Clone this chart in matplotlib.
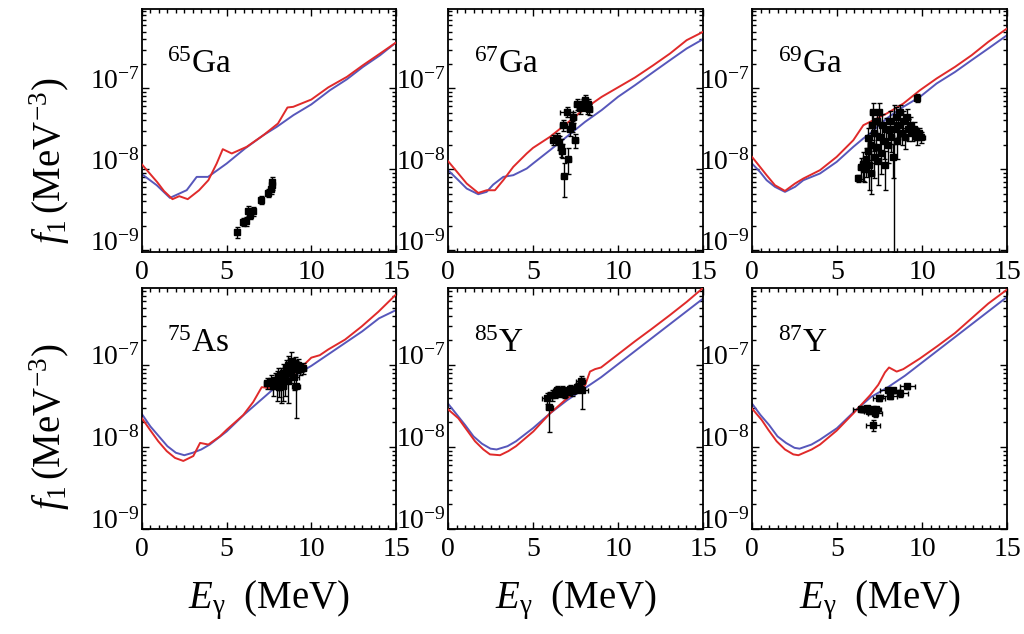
import numpy as np
import matplotlib
matplotlib.use("Agg")
import matplotlib.pyplot as plt
from matplotlib.ticker import LogLocator, MultipleLocator, NullFormatter

plt.rcParams['font.family'] = ['Liberation Serif', 'DejaVu Serif']
plt.rcParams['mathtext.fontset'] = 'custom'
plt.rcParams['mathtext.rm'] = 'Liberation Serif'
plt.rcParams['mathtext.it'] = 'Liberation Serif:italic'
plt.rcParams['mathtext.bf'] = 'Liberation Serif:bold'

RED = '#e02a2a'
BLUE = '#5757bb'

# ---------------- data (log10 of f1 in MeV^-3) ----------------
nuclides = ['65', '67', '69', '75', '85', '87']
elements = ['Ga', 'Ga', 'Ga', 'As', 'Y', 'Y']

# 65Ga
ga65_red_E = [0, 0.9, 1.3, 1.8, 2.2, 2.7, 3.37, 3.92, 4.41, 4.77, 5.3, 6.18, 7.17, 8.03, 8.59, 8.93, 10.0, 11.0, 12.1, 13.05, 14.06, 15]
ga65_red_log = [-7.942, -8.16, -8.27, -8.37, -8.333, -8.37, -8.26, -8.136, -7.93, -7.753, -7.806, -7.724, -7.58, -7.436, -7.238, -7.23, -7.14, -6.99, -6.86, -6.716, -6.572, -6.436]
ga65_blue_E = [0, 0.87, 1.65, 2.64, 3.23, 3.9, 5.0, 6.08, 7.17, 7.96, 8.94, 10.0, 11.1, 12.1, 13.05, 14.06, 15]
ga65_blue_log = [-8.062, -8.198, -8.354, -8.259, -8.095, -8.095, -7.93, -7.745, -7.58, -7.477, -7.333, -7.2, -7.025, -6.89, -6.737, -6.593, -6.436]
ga65_exp_E = [5.59, 5.95, 6.15, 6.28, 6.4, 6.58, 7.0, 7.46, 7.6, 7.66, 7.7]
ga65_exp_log = [-8.78, -8.65, -8.64, -8.51, -8.56, -8.52, -8.38, -8.29, -8.25, -8.157, -8.2]
ga65_exp_rel = [0.15, 0.12, 0.12, 0.15, 0.12, 0.12, 0.12, 0.12, 0.12, 0.15, 0.12]
ga65_exp_dE = [0.12, 0.12, 0.12, 0.12, 0.12, 0.12, 0.12, 0.12, 0.12, 0.12, 0.12]

# 67Ga
ga67_red_E = [0, 0.61, 1.1, 1.78, 2.27, 2.76, 3.25, 3.84, 4.63, 5.0, 6.0, 6.98, 8.06, 9.04, 10.0, 11.0, 12.08, 13.06, 14.04, 15]
ga67_red_log = [-7.90, -8.053, -8.177, -8.293, -8.26, -8.26, -8.136, -7.971, -7.806, -7.737, -7.6, -7.436, -7.25, -7.107, -6.99, -6.868, -6.716, -6.572, -6.407, -6.305]
ga67_blue_E = [0, 0.61, 1.1, 1.78, 2.27, 2.66, 3.25, 3.84, 4.63, 5.0, 6.0, 6.98, 8.06, 9.04, 10.0, 11.0, 12.08, 13.06, 14.04, 15]
ga67_blue_log = [-8.012, -8.136, -8.239, -8.309, -8.28, -8.19, -8.095, -8.074, -7.992, -7.93, -7.765, -7.6, -7.416, -7.27, -7.107, -6.963, -6.8, -6.654, -6.51, -6.395]
ga67_exp_E = [6.2, 6.4, 6.5, 6.63, 6.69, 6.82, 7.08, 6.78, 6.98, 7.18, 7.27, 7.37, 7.47, 7.57, 7.76, 7.92, 8.06, 8.16, 8.31, 8.25]
ga67_exp_log = [-7.634, -7.614, -7.666, -7.724, -7.77, -8.086, -7.868, -7.457, -7.29, -7.498, -7.47, -7.36, -7.64, -7.2, -7.25, -7.2, -7.148, -7.25, -7.26, -7.2]
ga67_exp_rel = [0.15, 0.15, 0.2, 0.25, 0.2, 0.45, 0.35, 0.15, 0.15, 0.2, 0.15, 0.15, 0.2, 0.15, 0.15, 0.15, 0.15, 0.15, 0.15, 0.15]
ga67_exp_dE = [0.15, 0.15, 0.15, 0.15, 0.15, 0.15, 0.15, 0.2, 0.4, 0.2, 0.15, 0.15, 0.15, 0.15, 0.15, 0.15, 0.15, 0.15, 0.15, 0.15]

# 69Ga
ga69_red_E = [0, 0.47, 0.86, 1.35, 1.94, 2.53, 3.02, 4.0, 4.98, 5.96, 6.55, 6.94, 7.92, 8.9, 9.88, 10.86, 11.94, 12.92, 13.9, 15]
ga69_red_log = [-7.848, -7.971, -8.074, -8.198, -8.268, -8.177, -8.115, -8.012, -7.848, -7.642, -7.457, -7.416, -7.313, -7.19, -7.025, -6.88, -6.737, -6.593, -6.428, -6.263]
ga69_blue_E = [0, 0.47, 0.86, 1.35, 1.94, 2.53, 3.02, 4.0, 4.98, 5.96, 6.55, 6.94, 7.92, 8.9, 9.88, 10.86, 11.94, 12.92, 13.9, 15]
ga69_blue_log = [-7.93, -8.033, -8.136, -8.218, -8.28, -8.218, -8.136, -8.053, -7.91, -7.724, -7.62, -7.56, -7.374, -7.23, -7.107, -6.942, -6.8, -6.654, -6.51, -6.346]
ga69_exp_E = [6.24, 6.4, 6.5, 6.6, 6.7, 6.8, 6.85, 6.9, 7.0, 7.0, 7.05, 7.1, 7.15, 7.2, 7.3, 7.35, 7.4, 7.45, 7.5, 7.6,
              7.65, 7.75, 7.8, 7.9, 8.0, 8.1, 8.2, 8.3, 8.37, 8.45, 8.5, 8.6, 8.7, 8.8, 8.9, 9.0, 9.1, 9.2, 9.3, 9.4,
              9.55, 9.7, 9.8, 9.95, 9.73]
ga69_exp_log = [-8.11, -7.97, -7.93, -8.0, -7.88, -7.78, -7.62, -7.95, -7.7, -8.05, -7.45, -7.3, -7.85, -7.55, -7.72, -7.4, -7.9, -7.3, -7.6, -7.8,
                -7.45, -7.65, -7.95, -7.5, -7.7, -7.4, -7.6, -7.85, -7.5, -7.35, -7.65, -7.45, -7.3, -7.55, -7.4, -7.6, -7.35, -7.5, -7.45, -7.55,
                -7.5, -7.6, -7.55, -7.6, -7.12]
ga69_exp_rel = [0.1, 0.3, 0.4, 0.3, 0.4, 0.45, 0.35, 0.5, 0.4, 0.45, 0.35, 0.3, 0.45, 0.4, 0.35, 0.3, 0.5, 0.3, 0.4, 0.45,
                0.35, 0.4, 0.5, 0.35, 0.4, 0.3, 0.35, 0.45, 0.97, 0.3, 0.4, 0.3, 0.25, 0.3, 0.3, 0.3, 0.25, 0.3, 0.25, 0.2,
                0.2, 0.2, 0.15, 0.15, 0.12]
ga69_exp_dE = [0.15] * 40 + [0.2, 0.25, 0.2, 0.25, 0.1]

# 75As
as75_red_E = [0, 0.47, 0.96, 1.46, 1.95, 2.44, 3.03, 3.43, 3.92, 4.6, 5.0, 5.98, 6.57, 7.07, 7.5, 8.05, 9.04, 9.5, 10.0, 10.5, 11.0, 11.99, 12.97, 13.96, 15]
as75_red_log = [-7.65, -7.79, -7.93, -8.05, -8.133, -8.17, -8.11, -7.95, -7.97, -7.87, -7.79, -7.61, -7.45, -7.27, -7.28, -7.25, -7.13, -7.01, -6.91, -6.88, -6.81, -6.69, -6.53, -6.35, -6.14]
as75_blue_E = [0, 0.5, 1, 1.5, 2, 2.5, 3, 3.5, 4, 5, 6, 7, 8, 9, 10, 11, 12, 13, 14, 15]
as75_blue_log = [-7.60, -7.75, -7.87, -7.99, -8.07, -8.10, -8.07, -8.03, -7.97, -7.81, -7.61, -7.43, -7.25, -7.13, -7.01, -6.87, -6.73, -6.59, -6.43, -6.33]
as75_exp_E = [7.4, 7.6, 7.75, 7.85, 7.95, 8.05, 8.1, 8.2, 8.3, 8.35, 8.45, 8.5, 8.6, 8.65, 8.75, 8.8, 8.9, 9.0, 9.05, 9.1, 9.2, 9.35, 9.5]
as75_exp_log = [-7.22, -7.2, -7.25, -7.18, -7.22, -7.15, -7.27, -7.2, -7.1, -7.25, -7.15, -7.05, -7.2, -7.0, -7.1, -6.95, -7.05, -7.15, -6.98, -7.25, -7.0, -7.05, -7.04]
as75_exp_rel = [0.15, 0.2, 0.25, 0.2, 0.4, 0.3, 0.25, 0.45, 0.3, 0.35, 0.4, 0.3, 0.45, 0.3, 0.25, 0.3, 0.25, 0.3, 0.2, 0.6, 0.2, 0.15, 0.15]
as75_exp_dE = [0.2, 0.2, 0.15, 0.2, 0.2, 0.15, 0.2, 0.2, 0.2, 0.15, 0.2, 0.2, 0.2, 0.15, 0.2, 0.2, 0.2, 0.25, 0.2, 0.25, 0.2, 0.2, 0.2]

# 85Y
y85_red_E = [0, 0.61, 1.1, 1.59, 2.08, 2.47, 3.06, 3.55, 4.0, 5.02, 6.0, 6.98, 8.06, 8.35, 8.65, 9.0, 10.0, 11.0, 11.98, 13.06, 14.04, 15]
y85_red_log = [-7.54, -7.65, -7.79, -7.93, -8.03, -8.09, -8.10, -8.05, -7.99, -7.81, -7.59, -7.41, -7.25, -7.08, -7.05, -7.03, -6.87, -6.71, -6.56, -6.39, -6.23, -6.06]
y85_blue_E = [0, 0.5, 1, 1.5, 2, 2.5, 2.86, 3.5, 4, 5, 6, 7, 8, 9, 10, 11, 12, 13, 14, 15]
y85_blue_log = [-7.47, -7.60, -7.73, -7.87, -7.96, -8.02, -8.03, -7.99, -7.93, -7.77, -7.59, -7.43, -7.29, -7.15, -6.99, -6.83, -6.67, -6.51, -6.35, -6.19]
y85_exp_E = [5.8, 5.96, 6.1, 6.3, 6.4, 6.5, 6.7, 6.8, 6.9, 7.1, 7.2, 7.3, 7.5, 7.6, 7.7, 7.8, 7.9]
y85_exp_log = [-7.40, -7.51, -7.37, -7.35, -7.31, -7.33, -7.31, -7.35, -7.33, -7.31, -7.29, -7.32, -7.29, -7.27, -7.25, -7.19, -7.31]
y85_exp_rel = [0.15, 0.5, 0.15, 0.12, 0.12, 0.12, 0.12, 0.12, 0.12, 0.12, 0.12, 0.12, 0.12, 0.12, 0.12, 0.15, 0.4]
y85_exp_dE = [0.3, 0.2, 0.2, 0.2, 0.2, 0.2, 0.2, 0.2, 0.2, 0.2, 0.2, 0.2, 0.2, 0.2, 0.2, 0.25, 0.35]

# 87Y
y87_red_E = [0, 0.57, 0.96, 1.45, 1.94, 2.43, 2.73, 3.51, 4.0, 4.98, 5.96, 6.94, 7.43, 7.82, 8.06, 8.51, 8.9, 9.88, 10.9, 11.94, 12.92, 13.9, 15]
y87_red_log = [-7.53, -7.67, -7.79, -7.93, -8.03, -8.09, -8.10, -8.03, -7.97, -7.80, -7.59, -7.37, -7.24, -7.09, -7.03, -7.08, -7.05, -6.92, -6.77, -6.61, -6.43, -6.25, -6.08]
y87_blue_E = [0, 0.5, 1, 1.5, 2, 2.5, 2.8, 3.5, 4, 5, 6, 7, 8, 9, 10, 11, 12, 13, 14, 15]
y87_blue_log = [-7.47, -7.61, -7.73, -7.87, -7.95, -8.01, -8.02, -7.97, -7.91, -7.77, -7.57, -7.39, -7.27, -7.13, -6.97, -6.81, -6.65, -6.49, -6.33, -6.17]
y87_exp_E = [6.41, 6.53, 6.75, 6.88, 7.1, 7.24, 7.3, 7.1, 7.49, 7.98, 8.1, 8.29, 8.71, 9.14]
y87_exp_log = [-7.54, -7.54, -7.53, -7.56, -7.54, -7.59, -7.54, -7.73, -7.40, -7.31, -7.38, -7.31, -7.34, -7.26]
y87_exp_rel = [0.08, 0.08, 0.08, 0.08, 0.08, 0.1, 0.08, 0.15, 0.08, 0.08, 0.08, 0.08, 0.1, 0.08]
y87_exp_dE = [0.45, 0.3, 0.4, 0.3, 0.45, 0.4, 0.3, 0.4, 0.35, 0.45, 0.4, 0.4, 0.45, 0.45]

panels = [
    (ga65_red_E, ga65_red_log, ga65_blue_E, ga65_blue_log, ga65_exp_E, ga65_exp_log, ga65_exp_rel, ga65_exp_dE),
    (ga67_red_E, ga67_red_log, ga67_blue_E, ga67_blue_log, ga67_exp_E, ga67_exp_log, ga67_exp_rel, ga67_exp_dE),
    (ga69_red_E, ga69_red_log, ga69_blue_E, ga69_blue_log, ga69_exp_E, ga69_exp_log, ga69_exp_rel, ga69_exp_dE),
    (as75_red_E, as75_red_log, as75_blue_E, as75_blue_log, as75_exp_E, as75_exp_log, as75_exp_rel, as75_exp_dE),
    (y85_red_E, y85_red_log, y85_blue_E, y85_blue_log, y85_exp_E, y85_exp_log, y85_exp_rel, y85_exp_dE),
    (y87_red_E, y87_red_log, y87_blue_E, y87_blue_log, y87_exp_E, y87_exp_log, y87_exp_rel, y87_exp_dE),
]

# ---------------- figure ----------------
W, H = 1024, 634
fig = plt.figure(figsize=(W / 100, H / 100), dpi=100)

lefts = [142, 448, 752]
widths = [254, 255, 255]
rows = [(9, 252), (288, 529)]
ylims = [(9.5e-10, 9.5e-7), (1.0e-9, 8.7e-7)]

for i, p in enumerate(panels):
    r, c = divmod(i, 3)
    top, bot = rows[r]
    ax = fig.add_axes([lefts[c] / W, 1 - bot / H, widths[c] / W, (bot - top) / H])
    rE, rL, bE, bL, xE, xL, xR, xD = p
    ax.plot(bE, 10 ** np.array(bL), color=BLUE, lw=1.4, zorder=2)
    ax.plot(rE, 10 ** np.array(rL), color=RED, lw=1.4, zorder=3)
    fv = 10 ** np.array(xL)
    ax.errorbar(xE, fv, yerr=fv * np.array(xR), xerr=xD, fmt='s', color='black',
                ms=4.5, elinewidth=1.0, capsize=1.8, capthick=1.0, zorder=4)
    ax.set_yscale('log')
    ax.set_xlim(0, 15)
    ax.set_ylim(*ylims[r])
    ax.xaxis.set_major_locator(MultipleLocator(5))
    ax.xaxis.set_minor_locator(MultipleLocator(0.5))
    ax.yaxis.set_major_locator(LogLocator(base=10, numticks=20))
    ax.yaxis.set_minor_locator(LogLocator(base=10, subs=np.arange(2, 10), numticks=20))
    ax.yaxis.set_minor_formatter(NullFormatter())
    ax.tick_params(which='both', direction='in', top=True, right=True, width=1.0)
    ax.tick_params(which='major', length=5)
    ax.tick_params(which='minor', length=3)
    ax.tick_params(axis='x', labelsize=20, pad=6)
    ax.tick_params(axis='y', labelsize=20, pad=1.5)
    for t in ax.yaxis.get_major_ticks():
        t.label1.set_verticalalignment('baseline')
    for s in ax.spines.values():
        s.set_linewidth(1.3)
    ax.text(0.10, 0.735, r'$^{%s}$%s' % (nuclides[i], elements[i]), transform=ax.transAxes,
            fontsize=24, ha='left', va='baseline')

# y labels
for yc in (161, 427):
    fig.text(50 / W, 1 - yc / H, r'$f_{1}\,(\mathrm{MeV}^{-3})$', rotation=90,
             ha='center', va='center', fontsize=28)

# x labels
for c in range(3):
    xc = lefts[c] + widths[c] / 2
    fig.text(xc / W, 1 - 608 / H, r'$E_{\mathrm{\gamma}}\ \ \mathrm{(MeV)}$', ha='center',
             va='baseline', fontsize=28)

fig.savefig('out.png', dpi=100)
